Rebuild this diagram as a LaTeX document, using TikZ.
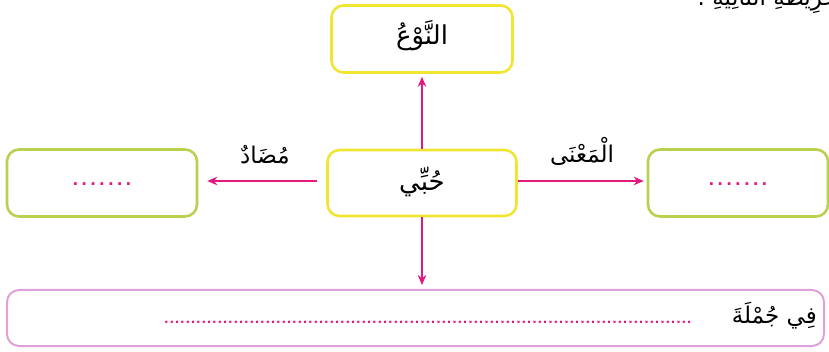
\documentclass[tikz,border=0pt]{standalone}
\usepackage{fontspec}
\TeXXeTstate=1
\newfontfamily\arabicfont[Script=Arabic]{DejaVu Sans}
\newfontfamily\dotfont{DejaVu Sans}
\usetikzlibrary{arrows.meta}
\definecolor{boxyellow}{HTML}{F0E632}
\definecolor{boxgreen}{HTML}{B8D250}
\definecolor{boxpink}{HTML}{DFA2D8}
\definecolor{arrmag}{HTML}{E4197F}
\newcommand{\artext}[1]{\arabicfont\beginR #1\endR}
\newcommand{\shortdots}{\hbox to 62pt{\xleaders\hbox to 8.8pt{\hss.\hss}\hfill}}
\newcommand{\longdots}{\hbox to 528pt{\xleaders\hbox to 5.3pt{\hss.\hss}\hfill}}
\tikzset{
  panel/.style={rectangle, rounded corners=12pt, line width=2.6pt, inner sep=0pt},
  yellowpanel/.style={panel, draw=boxyellow},
  greenpanel/.style={panel, draw=boxgreen},
  pinkpanel/.style={panel, draw=boxpink, line width=2pt},
  link/.style={draw=arrmag, line width=1.7pt, -{Stealth[length=10pt,width=8.5pt]}},
  artxt/.style={font=\fontsize{26}{30}\selectfont, text=black, inner sep=0pt},
  labtxt/.style={font=\fontsize{23}{27}\selectfont, text=black, inner sep=0pt},
  dotsfill/.style={text=arrmag, font=\fontsize{15}{18}\dotfont\bfseries, inner sep=0pt},
  longdotsfill/.style={text=arrmag, font=\fontsize{12}{14}\dotfont\bfseries, inner sep=0pt}
}
\begin{document}
\begin{tikzpicture}[x=1pt,y=1pt]
\useasboundingbox (0,0) rectangle (829,-352);
% cropped heading at the top
\node[labtxt, anchor=east] (head) at (852,3) {\artext{الْخَرِيطَةِ التَّالِيَةِ :}};
% boxes
\node[yellowpanel, minimum width=181pt, minimum height=67pt] (top) at (422,-39) {};
\node[yellowpanel, minimum width=189pt, minimum height=66pt] (mid) at (422,-183) {};
\node[greenpanel, minimum width=190pt, minimum height=67pt] (left) at (102,-183) {};
\node[greenpanel, minimum width=180pt, minimum height=67pt] (right) at (738,-183) {};
\node[pinkpanel, minimum width=817pt, minimum height=56pt] (bottom) at (415.5,-318) {};
% texts
\node[artxt] (toptext) at (422,-36) {\artext{النَّوْعُ}};
\node[artxt] (midtext) at (422,-182) {\artext{حُبِّي}};
\node[dotsfill] (leftdots) at (102,-184) {\shortdots};
\node[dotsfill] (rightdots) at (738,-184) {\shortdots};
\node[labtxt, anchor=east] (bottomtext) at (817,-316) {\artext{فِي جُمْلَةَ}};
\node[longdotsfill, anchor=east] (bottomdots) at (692,-322) {\longdots};
% connectors
\draw[link] (mid.north) -- ([yshift=-3pt]top.south);
\draw[link] ([xshift=-9pt,yshift=2pt]mid.west) -- ([xshift=9pt,yshift=2pt]left.east);
\draw[link] ([yshift=2pt]mid.east) -- ([xshift=-3pt,yshift=2pt]right.west);
\draw[link] (mid.south) -- ([yshift=4pt]mid.south |- bottom.north);
% arrow labels
\node[labtxt] (antlabel) at (265,-155) {\artext{مُضَادٌ}};
\node[labtxt] (meanlabel) at (582,-151) {\artext{الْمَعْنَى}};
\end{tikzpicture}
\end{document}
